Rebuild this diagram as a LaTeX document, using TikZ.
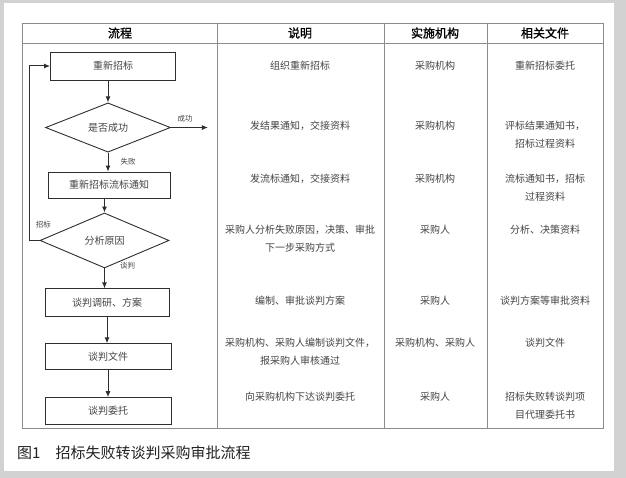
\documentclass[tikz,border=0pt]{standalone}
\usepackage{fontspec}
\setmainfont{Noto Sans CJK SC}[AutoFakeBold=1.2]
\usetikzlibrary{shapes.geometric, arrows.meta, positioning}
\definecolor{flowline}{HTML}{2e2e2e}
\definecolor{gridline}{HTML}{8c8c8c}
\definecolor{cardgrey}{HTML}{d2d2d2}
\definecolor{celltext}{HTML}{444444}
\definecolor{capttext}{HTML}{222222}

\begin{document}
\begin{tikzpicture}[
    x=1pt, y=-1pt,
    header/.style={font=\fontsize{12}{14}\selectfont\bfseries, text=black},
    cell/.style={font=\fontsize{10}{18}\selectfont, text=celltext, align=center, inner sep=0pt},
    stepbox/.style={draw=flowline, line width=0.9pt, rectangle, font=\fontsize{10}{12}\selectfont, text=celltext, inner sep=0pt},
    decision/.style={draw=flowline, line width=0.9pt, diamond, font=\fontsize{10}{12}\selectfont, text=celltext, inner sep=0pt},
    tag/.style={font=\fontsize{7.5}{9}\selectfont, text=celltext, inner sep=0pt},
    arrow/.style={-{Latex[length=6pt, width=5pt]}, line width=1pt, flowline},
    grid/.style={draw=gridline, line width=0.8pt}
]

% Card
\fill[cardgrey] (0,0) rectangle (626,478);
\fill[white] (4,3) rectangle (614,471);
\useasboundingbox (0,0) rectangle (626,478);

% Table
\draw[grid] (22,23) rectangle (603,428);
\draw[grid] (22,43) -- (603,43);
\draw[grid] (217,23) -- (217,428);
\draw[grid] (384,23) -- (384,428);
\draw[grid] (487,23) -- (487,428);

\node[header] (hflow) at (120,33) {流程};
\node[header] (hdesc) at (300,33) {说明};
\node[header] (horg) at (435,33) {实施机构};
\node[header] (hdoc) at (545,33) {相关文件};

% Flow
\node[stepbox, minimum width=125pt, minimum height=28pt] (rebid) at (113,66) {重新招标};
\node[decision, minimum width=125pt, minimum height=49pt, below=22pt of rebid, xshift=-5pt] (ok) {是否成功};
\node[stepbox, minimum width=122pt, minimum height=26pt, below=19pt of ok, xshift=1pt] (notice) {重新招标流标通知};
\node[decision, minimum width=129pt, minimum height=55pt, below=14pt of notice, xshift=-4.5pt] (why) {分析原因};
\node[stepbox, minimum width=124pt, minimum height=28pt, below=20pt of why, xshift=2.5pt] (plan) {谈判调研、方案};
\node[stepbox, minimum width=126pt, minimum height=26pt, below=26pt of plan, xshift=1pt] (docs) {谈判文件};
\node[stepbox, minimum width=126pt, minimum height=27pt, below=27pt of docs] (entrust) {谈判委托};

\coordinate[right=37pt of ok.east] (win);
\coordinate[left=10pt of why.west] (back);

\draw[arrow] (rebid.south -| ok.north) -- (ok.north);
\draw[arrow] (ok.east) -- node[tag, above=5pt, pos=0.38] {成功} (win);
\draw[arrow] (ok.south) -- node[tag, right=12pt] {失败} (ok.south |- notice.north);
\draw[arrow] (notice.south -| why.north) -- (why.north);
\draw[arrow] (why.west) -- (back) |- (rebid.west);
\node[tag, above right=12pt and 6pt of back] (rebidtag) {招标};
\draw[arrow] (why.south) -- node[tag, pos=0, right=15pt, yshift=3pt] {谈判} (why.south |- plan.north);
\draw[arrow] (plan.south) -- (plan.south |- docs.north);
\draw[arrow] (docs.south) -- (docs.south |- entrust.north);

% Description
\node[cell] (d1) at (300,66) {组织重新招标};
\node[cell] (d2) at (300,126) {发结果通知，交接资料};
\node[cell] (d3) at (300,179) {发流标通知，交接资料};
\node[cell] (d4) at (300,239) {采购人分析失败原因，决策、审批\\下一步采购方式};
\node[cell] (d5) at (300,301) {编制、审批谈判方案};
\node[cell] (d6) at (300,352) {采购机构、采购人编制谈判文件，\\报采购人审核通过};
\node[cell] (d7) at (300,397) {向采购机构下达谈判委托};

% Organisation
\node[cell] (o1) at (435,66) {采购机构};
\node[cell] (o2) at (435,126) {采购机构};
\node[cell] (o3) at (435,179) {采购机构};
\node[cell] (o4) at (435,230) {采购人};
\node[cell] (o5) at (435,301) {采购人};
\node[cell] (o6) at (435,343) {采购机构、采购人};
\node[cell] (o7) at (435,397) {采购人};

% Documents
\node[cell] (f1) at (545,66) {重新招标委托};
\node[cell] (f2) at (545,135) {评标结果通知书，\\招标过程资料};
\node[cell] (f3) at (545,188) {流标通知书，招标\\过程资料};
\node[cell] (f4) at (545,230) {分析、决策资料};
\node[cell] (f5) at (545,301) {谈判方案等审批资料};
\node[cell] (f6) at (545,343) {谈判文件};
\node[cell] (f7) at (545,406) {招标失败转谈判项\\目代理委托书};

% Caption
\node[anchor=west, font=\fontsize{15}{18}\selectfont, text=capttext, inner sep=0pt] (caption) at (17,453) {图1\quad 招标失败转谈判采购审批流程};

\end{tikzpicture}
\end{document}
